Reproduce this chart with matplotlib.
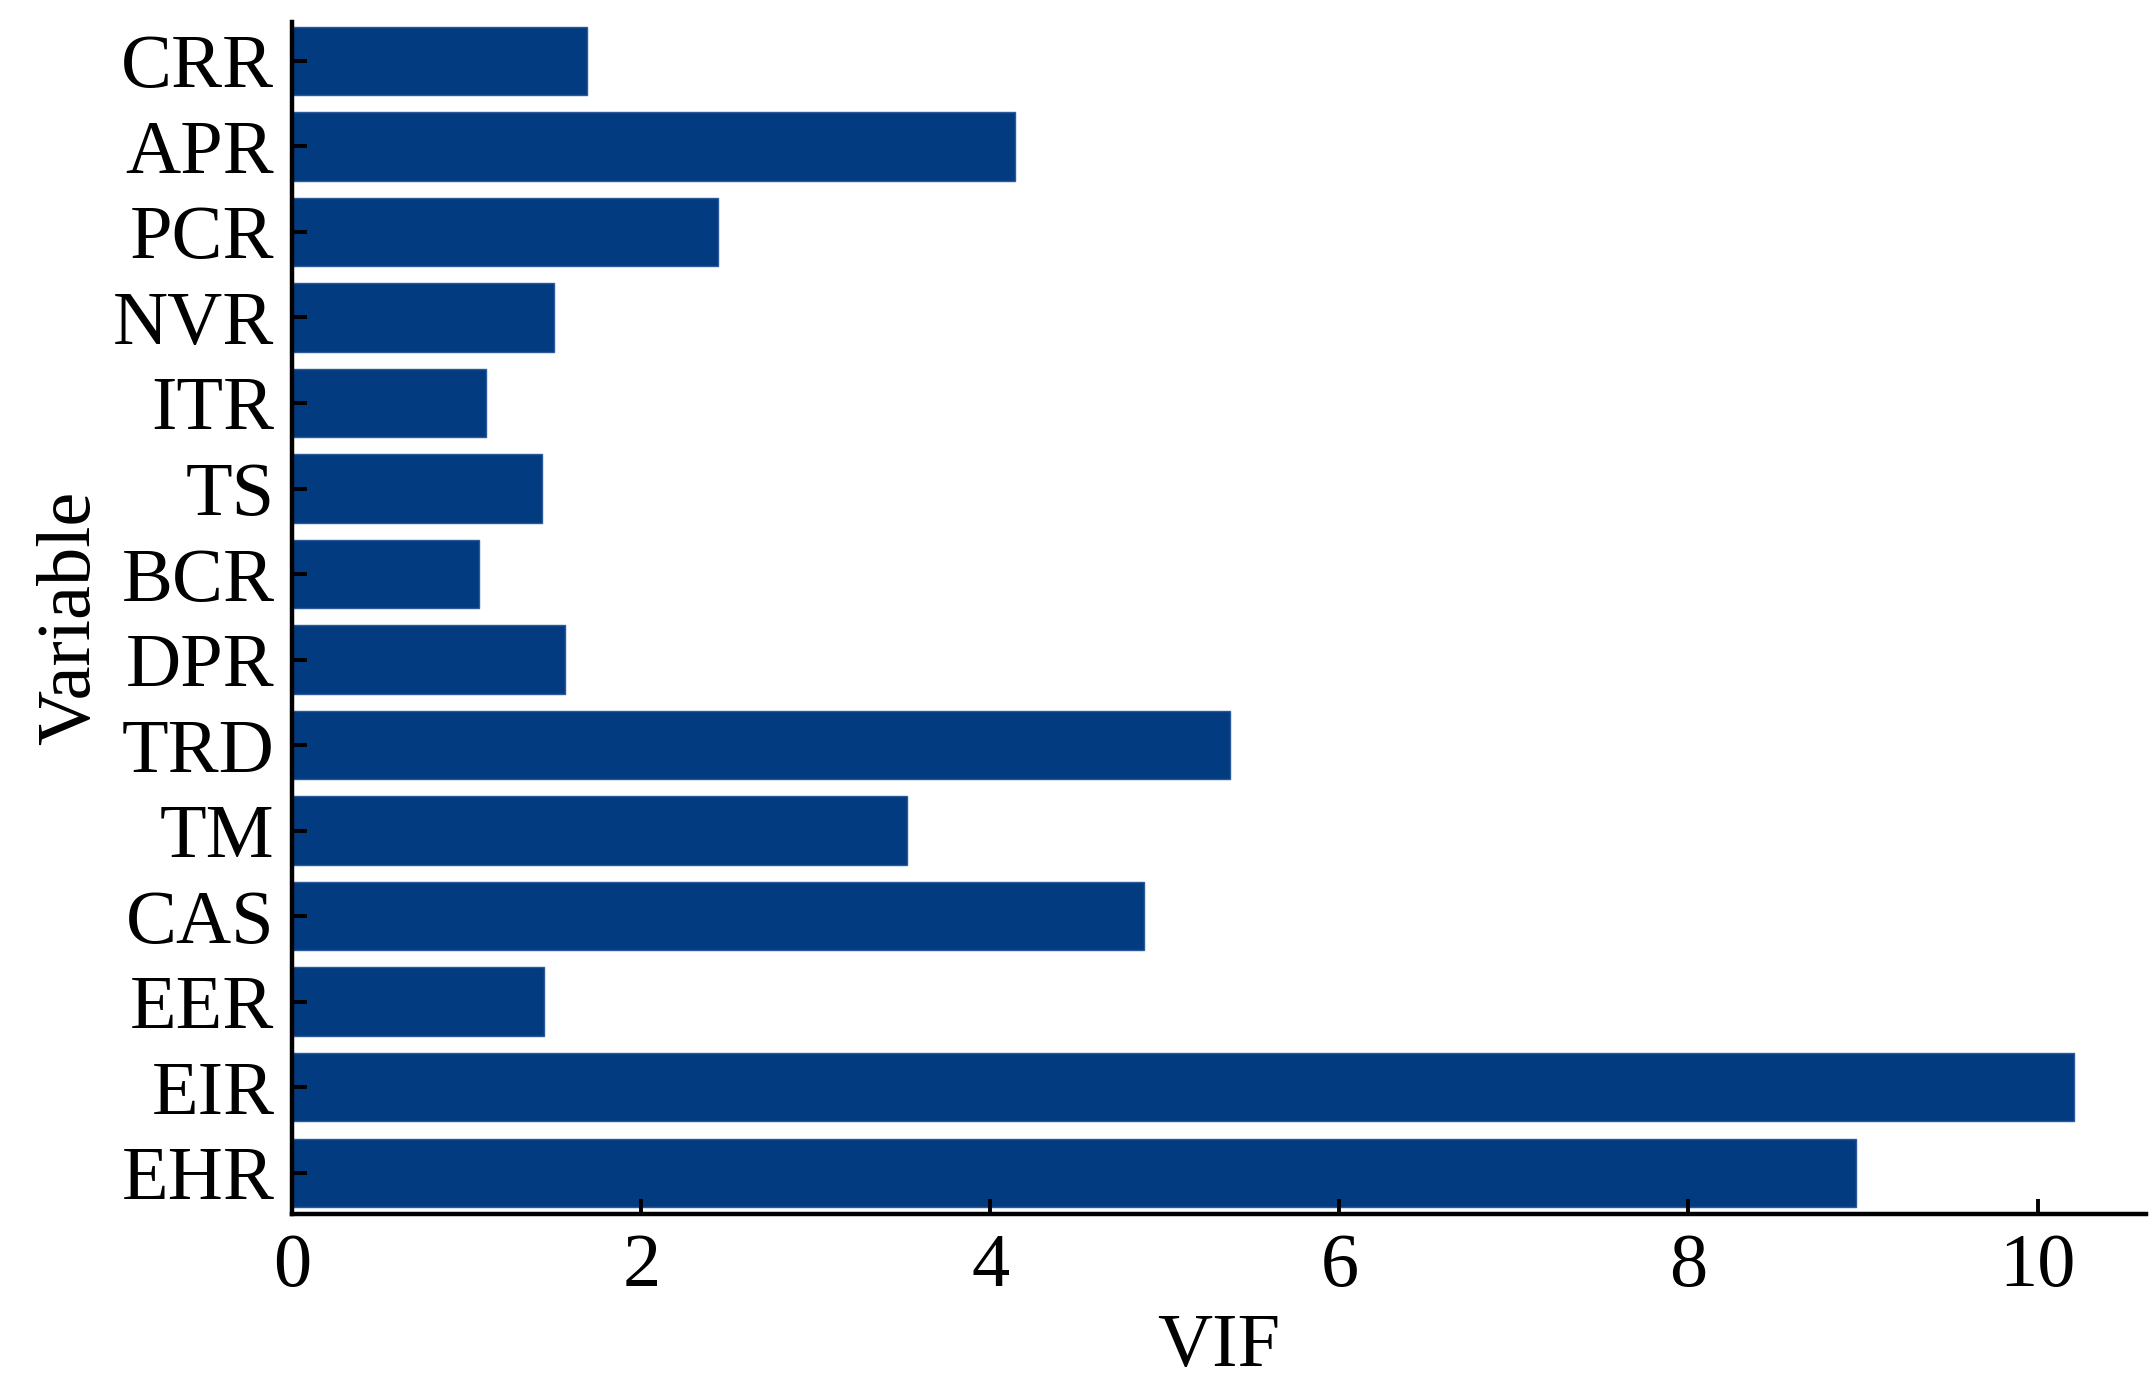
import matplotlib.pyplot as plt
import numpy as np

plt.rc("font", family=["Liberation Serif", "DejaVu Serif"], size=55)

# variables from top to bottom as they appear in the chart
variables = ["CRR", "APR", "PCR", "NVR", "ITR", "TS", "BCR",
             "DPR", "TRD", "TM", "CAS", "EER", "EIR", "EHR"]
vif = [1.69, 4.14, 2.44, 1.50, 1.11, 1.43, 1.07,
       1.56, 5.37, 3.52, 4.88, 1.44, 10.21, 8.96]
x_ticks = [0, 2, 4, 6, 8, 10]


def plot_vif(filename="out.png"):
    fig = plt.figure(figsize=(21.5, 14), dpi=100)
    ax = fig.add_axes([0.136, 0.133, 0.862, 0.851])

    # bottom variable sits at y=0
    ypos = np.arange(len(variables))[::-1]
    ax.barh(ypos, vif, height=0.8, color="#033b80", edgecolor="#2a5a9a",
            linewidth=1.0)

    ax.set_yticks(ypos)
    ax.set_yticklabels(variables)
    ax.set_xticks(x_ticks)
    ax.set_xlim(0, 10.62)
    ax.set_ylim(-0.48, len(variables) - 1 + 0.45)

    # only left and bottom axis lines, ticks pointing inwards
    for side in ["top", "right"]:
        ax.spines[side].set_visible(False)
    for side in ["left", "bottom"]:
        ax.spines[side].set_linewidth(3.2)
    ax.tick_params(axis="both", direction="in", length=11, width=2.8)
    ax.tick_params(axis="y", pad=13)
    ax.tick_params(axis="x", pad=14)

    ax.set_xlabel("VIF", labelpad=8)
    ax.set_ylabel("Variable", labelpad=6)

    fig.savefig(filename, dpi=100)


if __name__ == "__main__":
    plot_vif()
